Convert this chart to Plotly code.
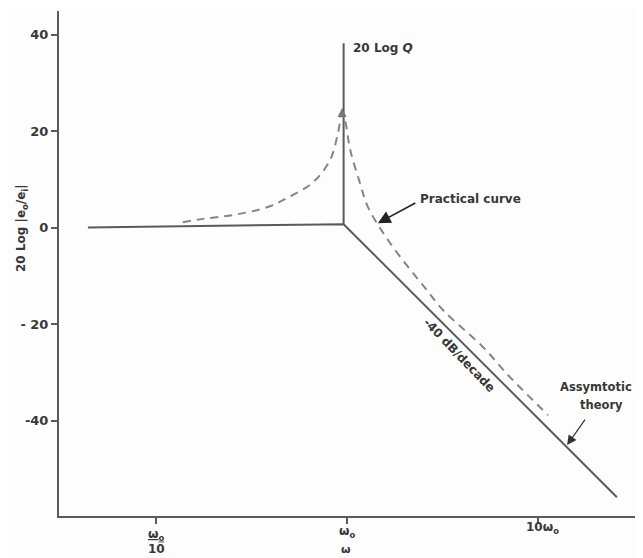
import math
import plotly.graph_objects as go

# ---- data (omega in units of omega0, gain in dB) ----
asym_w = [0.044, 0.96, 25.9]
asym_db = [0.0, 0.7, -55.9]

q_w = [0.96, 0.96]
q_db = [0.7, 38.2]

prac_w = [0.138, 0.176, 0.253, 0.381, 0.485, 0.664, 0.815, 0.897, 0.942,
          0.976, 1.04, 1.17, 1.29, 1.68, 2.62, 3.18, 5.16, 7.13, 11.3]
prac_db = [1.1, 1.8, 2.6, 4.2, 6.1, 9.4, 14.0, 19.6, 23.7,
           22.3, 16.1, 9.2, 4.2, -3.2, -13.0, -17.1, -24.8, -31.0, -38.9]

y_ticks = [40, 20, 0, -20, -40]
y_ticktext = ["40", "20", "0", "- 20", "-40"]
x_ticks = [0.1, 1, 10]

FONT = "DejaVu Sans"
TXT = "#383838"
LINE = "#5a5a5a"

OFF = 8  # page body margin
W, H = 643 - OFF, 558 - OFF
L, R, T, B = 59 - OFF, 8, 11 - OFF, 42
PW, PH = W - L - R, H - T - B


def px(x):
    return (x - OFF - L) / PW


def py(y):
    return (H - B - (y - OFF)) / PH


fig = go.Figure()
fig.add_trace(go.Scatter(x=prac_w, y=prac_db, mode="lines",
                         line=dict(color="#858585", width=2, dash="8px,6px", shape="spline"),
                         showlegend=False, hoverinfo="skip"))
fig.add_trace(go.Scatter(x=asym_w, y=asym_db, mode="lines",
                         line=dict(color=LINE, width=2),
                         showlegend=False, hoverinfo="skip"))
fig.add_trace(go.Scatter(x=q_w, y=q_db, mode="lines",
                         line=dict(color=LINE, width=2),
                         showlegend=False, hoverinfo="skip"))

ann = []


def text(x, y, s, size=12, angle=0, xanchor="center"):
    ann.append(dict(x=px(x), y=py(y), xref="paper", yref="paper", text=s,
                    showarrow=False, textangle=angle, xanchor=xanchor, yanchor="middle",
                    font=dict(family=FONT, size=size, color=TXT, weight="bold")))


text(383, 48, "20 Log <i>Q</i>")
text(418, 199, "Practical curve", xanchor="left")
text(459, 355, "-40 dB/decade", angle=46)
text(596, 387, "Assymtotic", size=11.5)
text(601, 405, "theory", size=11.5)
text(22, 228, "20 Log |e<sub>o</sub>/e<sub>i</sub>|", size=12, angle=-90)
# x tick labels
text(156, 535, "<u>ω<sub>o</sub></u>")
text(156, 549, "10")
text(347, 532, "ω<sub>o</sub>")
text(542, 528, "10ω<sub>o</sub>")
text(346, 549, "ω", size=11)


def arrow(w, db, ax, ay, size, width, color):
    ann.append(dict(x=math.log10(w), y=db, xref="x", yref="y", ax=ax, ay=ay, text="",
                    showarrow=True, arrowhead=2, arrowsize=size, arrowwidth=width,
                    arrowcolor=color))


arrow(1.45, 0.9, 39, -21, 1.6, 1.6, "#222")
arrow(14.2, -45.1, 19, -27, 1.6, 1.2, "#333")
arrow(0.942, 24.8, 0, 10, 1.2, 1.5, "#777")

fig.update_layout(
    width=W, height=H,
    margin=dict(l=L, r=R, t=T, b=B),
    paper_bgcolor="#fdfdfd", plot_bgcolor="#fdfdfd",
    annotations=ann,
    xaxis=dict(type="log", range=[-1.508, 1.508], tickvals=x_ticks, showticklabels=False,
               ticks="outside", ticklen=6, tickwidth=1.5, tickcolor=LINE,
               showline=True, linecolor=LINE, linewidth=2, showgrid=False, zeroline=False),
    yaxis=dict(range=[-59.8, 44.9], tickvals=y_ticks, ticktext=y_ticktext,
               ticks="outside", ticklen=6, tickwidth=1.5, tickcolor=LINE,
               tickfont=dict(family=FONT, size=13, color=TXT, weight="bold"),
               showline=True, linecolor=LINE, linewidth=2, showgrid=False, zeroline=False),
)

fig.write_html("out.html")
